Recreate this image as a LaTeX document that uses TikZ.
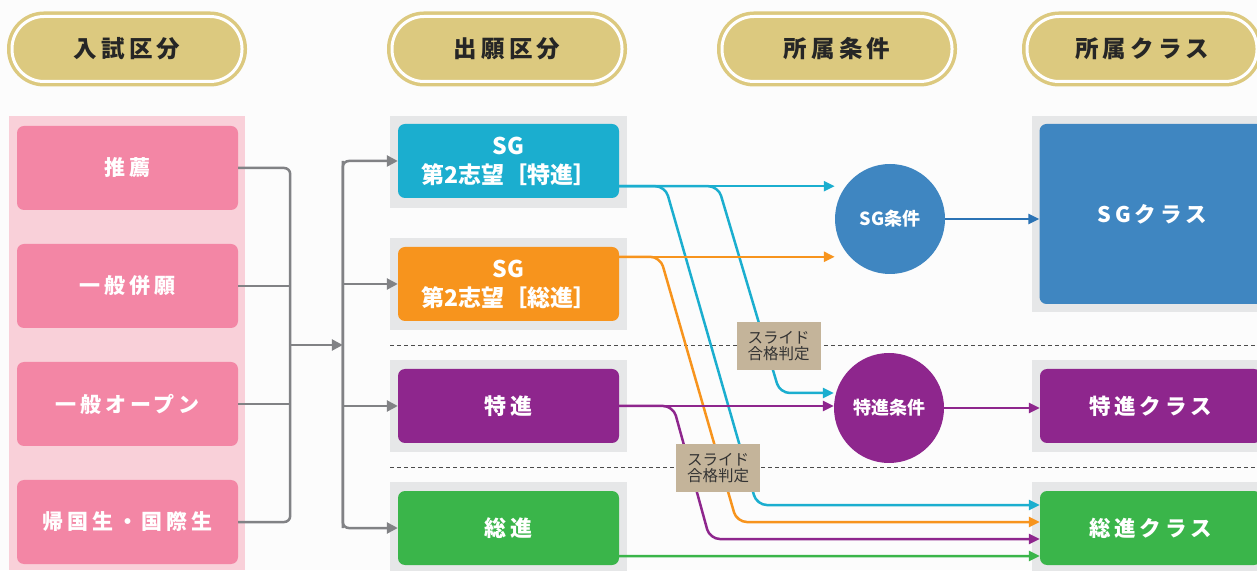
\documentclass[tikz,border=0pt]{standalone}
\usepackage{fontspec}
\usepackage{tikz}
\usetikzlibrary{calc,arrows.meta}
\newfontfamily\jpfont{Noto Sans CJK JP}
\newfontfamily\jpwide{Noto Sans CJK JP}[LetterSpace=18]
\definecolor{gold}{HTML}{DCC97F}
\definecolor{pinkbg}{HTML}{F9D0D9}
\definecolor{pinkbox}{HTML}{F386A5}
\definecolor{panelgray}{HTML}{E6E7E8}
\definecolor{sgcyan}{HTML}{1BAECF}
\definecolor{sgorange}{HTML}{F7941D}
\definecolor{tkpurple}{HTML}{8E268D}
\definecolor{sjgreen}{HTML}{3AB54A}
\definecolor{sgblue}{HTML}{3F86C1}
\definecolor{arrowblue}{HTML}{2B73B5}
\definecolor{slidetan}{HTML}{C4B49A}
\definecolor{busgray}{HTML}{818285}
\newcommand{\flowwidth}{2.5pt}
\newcommand{\buswidth}{2.5pt}

\begin{document}
\begin{tikzpicture}[x=1pt,y=1pt,
  head/.style={fill=gold, draw=white, line width=3pt, rounded corners=32pt,
    minimum width=230pt, minimum height=65pt, preaction={draw=gold, line width=10pt},
    text=black!85, font=\jpwide\bfseries\fontsize{23.5}{23.5}\selectfont},
  panel/.style={fill=panelgray, minimum width=237pt, minimum height=92pt},
  pbox/.style={fill=pinkbox, rounded corners=7pt, minimum width=221pt, minimum height=84pt,
    text=white, font=\jpwide\bfseries\fontsize{21}{21}\selectfont},
  cbox/.style={rounded corners=7pt, minimum width=221pt, minimum height=74pt, inner sep=0pt,
    text=white, align=center, font=\jpfont\bfseries\fontsize{23}{29}\selectfont},
  kbox/.style={rounded corners=7pt, minimum width=221pt, minimum height=74pt,
    text=white, font=\jpwide\bfseries\fontsize{21.5}{21.5}\selectfont},
  circ/.style={circle, minimum size=110pt, inner sep=0pt,
    text=white, font=\jpfont\bfseries\fontsize{18}{18}\selectfont},
  slide/.style={fill=slidetan, minimum width=84pt, minimum height=48pt, inner sep=0pt,
    align=center, text=black!80, font=\jpfont\fontsize{15.5}{16}\selectfont},
  flow/.style={draw=#1, line width=\flowwidth, rounded corners=10pt,
    -{Triangle[length=11pt,width=10pt]}},
  busline/.style={draw=busgray, line width=\buswidth, rounded corners=6pt},
  busarrow/.style={busline, -{Triangle[length=11pt,width=11pt]}}]
\useasboundingbox (0,0) rectangle (1257,570);
\clip (0,0) rectangle (1257,570);
\fill[gray!2] (0,0) rectangle (1257,570);
% headers
\node[head] (h1) at (127,521) {入試区分};
\node[head] (h2) at (507,521) {出願区分};
\node[head] (h3) at (837,521) {所属条件};
\node[head] (h4) at (1142,521) {所属クラス};
% panels
\fill[pinkbg] (9,0) rectangle (245,454);
\node[panel] at (508.5,408) {};
\node[panel] at (508.5,286) {};
\node[panel] at (508.5,163.5) {};
\node[panel] at (508.5,42) {};
\node[panel, minimum width=238pt, minimum height=196pt] at (1151,356) {};
\node[panel, minimum width=238pt] at (1151,163.5) {};
\node[panel, minimum width=238pt] at (1151,42) {};
% separators
\draw[black!70, line width=0.8pt, dash pattern=on 4pt off 3pt] (390,225) -- (1257,225);
\draw[black!70, line width=0.8pt, dash pattern=on 4pt off 3pt] (390,103) -- (1257,103);
% entrance
\node[pbox] (p1) at (127.5,402) {推薦};
\node[pbox] (p2) at (127.5,284) {一般併願};
\node[pbox] (p3) at (127.5,166) {一般オープン};
\node[pbox] (p4) at (127.5,48) {帰国生・国際生};
% application
\node[cbox, fill=sgcyan] (sg1) at (508.5,409) {SG\\第2志望［特進］};
\node[cbox, fill=sgorange] (sg2) at (508.5,286) {SG\\第2志望［総進］};
\node[cbox, fill=tkpurple, font=\jpwide\bfseries\fontsize{22}{22}\selectfont] (tk) at (508.5,164) {特進};
\node[cbox, fill=sjgreen, font=\jpwide\bfseries\fontsize{22}{22}\selectfont] (sj) at (508.5,42) {総進};
% conditions
\node[circ, fill=sgblue] (sgc) at (890,351) {SG条件};
\node[circ, fill=tkpurple] (tkc) at (889,162) {特進条件};
% classes
\node[kbox, fill=sgblue, minimum width=225pt, minimum height=180pt] (sgk) at (1152,356) {SGクラス};
\node[kbox, fill=tkpurple] (tkk) at (1150.5,164) {特進クラス};
\node[kbox, fill=sjgreen] (sjk) at (1150.5,42) {総進クラス};
% gray buses
\draw[busline] (p1.east) -- ++(52,0) |- (p4.east);
\draw[busline] (p2.east) -- ++(52,0);
\draw[busline] (p3.east) -- ++(52,0);
\coordinate (lb) at ($(p1.east)!0.5!(p4.east)+(52,0)$);
\coordinate (rb) at ($(sg1.west)+(-55,0)$);
\draw[busarrow] (lb) -- (lb -| rb);
\draw[busarrow] ($(sj.west)+(-55,0)$) |- (sg1.west);
\draw[busarrow] (rb) |- (sj.west);
\draw[busarrow] (sg2.west -| rb) -- (sg2.west);
\draw[busarrow] (tk.west -| rb) -- (tk.west);
% flows
\coordinate (c1) at ($(sg1.south east)+(0,12)$);
\coordinate (c2) at ($(sg2.north east)+(0,-10)$);
\coordinate (c4) at ($(sj.south east)+(0,9)$);
\coordinate (t1) at ($(sjk.west)+(0,23)$);
\coordinate (t2) at ($(sjk.west)+(0,6)$);
\coordinate (t3) at ($(sjk.west)+(0,-11)$);
\coordinate (t4) at ($(sjk.west)+(0,-28)$);
\coordinate (t5) at ($(tkc.west)+(0,15)$);
\draw[flow=sgcyan] (c1) -- (c1 -| sgc.west);
\draw[flow=sgcyan] (c1) -- ++(46,0) -- ($(t1)+(-283,0)$) -- (t1);
\draw[flow=sgcyan] (c1) -- ++(99,0) -- ($(t5)+(-54,0)$) -- (t5);
\draw[flow=sgorange] (c2) -- (c2 -| sgc.west);
\draw[flow=sgorange] (c2) -- ++(41,0) -- ($(t2)+(-303,0)$) -- (t2);
\draw[flow=tkpurple] (tk.east) -- (tk.east -| tkc.west);
\draw[flow=tkpurple] (tk.east) -- ++(54,0) -- ($(t3)+(-330,0)$) -- (t3);
\draw[flow=sjgreen] (c4) -- (t4);
\draw[flow=arrowblue] (sgc.east) -- (sgc.east -| sgk.west);
\draw[flow=tkpurple] (tkc.east) -- (tkc.east -| tkk.west);
% slide labels
\node[slide] (sl1) at (778.5,224) {スライド\\合格判定};
\node[slide] (sl2) at (718,102) {スライド\\合格判定};
\end{tikzpicture}
\end{document}
